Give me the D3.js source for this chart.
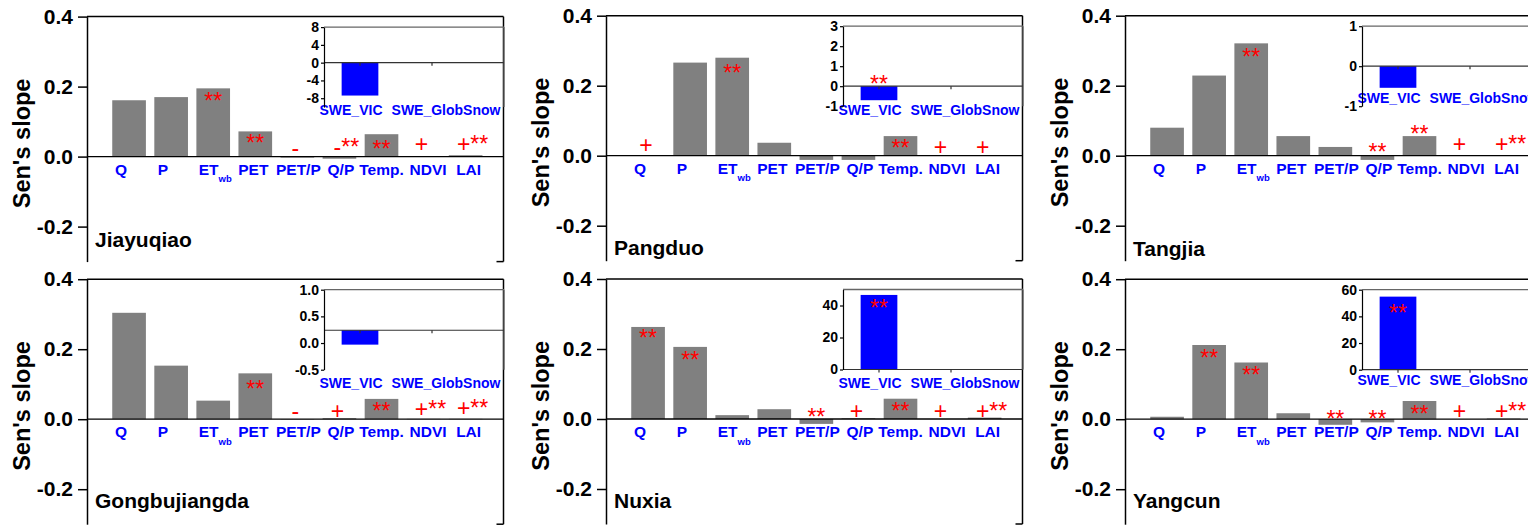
<!DOCTYPE html>
<html>
<head>
<meta charset="utf-8">
<script src="https://cdn.jsdelivr.net/npm/d3@7"></script>
<style>
  html, body { margin: 0; padding: 0; background: #fff; }
  svg { display: block; font-family: "Liberation Sans", Arial, Helvetica, sans-serif; }
</style>
</head>
<body>
<svg id="chart" width="1528" height="525"></svg>
<script>
// ---- Variables on the main axis (Sen's slope per variable) ----
const categories   = ["Q", "P", "ET", "PET", "PET/P", "Q/P", "Temp.", "NDVI", "LAI"];
const categorySubs = ["", "", "wb", "", "", "", "", "", ""];
const yTicks       = [0.4, 0.2, 0.0, -0.2];
const yTickLabels  = ["0.4", "0.2", "0.0", "-0.2"];
const sweProducts  = ["SWE_VIC", "SWE_GlobSnow"];
const stations     = ["Jiayuqiao", "Pangduo", "Tangjia", "Gongbujiangda", "Nuxia", "Yangcun"];

// Sen's slope of each variable, per station
const jiayuqiaoSlope     = [0.161, 0.170, 0.195, 0.072, -0.003, -0.006, 0.064, 0.000, 0.004];
const pangduoSlope       = [0.000, 0.266, 0.280, 0.037, -0.012, -0.012, 0.056, 0.000, 0.000];
const tangjiaSlope       = [0.080, 0.229, 0.321, 0.056, 0.025, -0.012, 0.056, 0.000, 0.001];
const gongbujiangdaSlope = [0.304, 0.153, 0.053, 0.131, -0.001, 0.003, 0.058, 0.001, 0.001];
const nuxiaSlope         = [0.263, 0.206, 0.011, 0.028, -0.014, 0.002, 0.058, 0.000, 0.004];
const yangcunSlope       = [0.007, 0.212, 0.162, 0.017, -0.016, -0.009, 0.052, 0.000, 0.002];

// Trend test marks (sign of trend, ** = significant) and the slope level where each mark sits
const jiayuqiaoTest     = ["", "", "**", "**", "-", "-**", "**", "+", "+**"];
const jiayuqiaoTestAt   = [null, null, 0.135, 0.015, 0.003, 0.004, 0.000, 0.012, 0.012];
const pangduoTest       = ["+", "", "**", "", "", "", "**", "+", "+"];
const pangduoTestAt     = [0.007, null, 0.214, null, null, null, 0.000, 0.002, 0.002];
const tangjiaTest       = ["", "", "**", "", "", "**", "**", "+", "+**"];
const tangjiaTestAt     = [null, null, 0.258, null, null, -0.012, 0.040, 0.010, 0.010];
const gongbujiangdaTest   = ["", "", "", "**", "-", "+", "**", "+**", "+**"];
const gongbujiangdaTestAt = [null, null, null, 0.064, 0.000, 0.000, 0.000, 0.007, 0.009];
const nuxiaTest         = ["**", "**", "", "", "**", "+", "**", "+", "+**"];
const nuxiaTestAt       = [0.210, 0.147, null, null, -0.017, 0.000, 0.000, 0.000, 0.000];
const yangcunTest       = ["", "**", "**", "", "**", "**", "**", "+", "+**"];
const yangcunTestAt     = [null, 0.153, 0.104, null, -0.021, -0.021, -0.009, 0.000, 0.000];

// Snow water equivalent slopes (inset), GlobSnow has no value
const jiayuqiaoSwe     = [-7.4, null];
const pangduoSwe       = [-0.7, null];
const tangjiaSwe       = [-0.54, null];
const gongbujiangdaSwe = [-0.03, null];
const nuxiaSwe         = [46.6, null];
const yangcunSwe       = [54.8, null];

const sweBase       = [0, 0, 0, 0.24, 0, 0];
const sweDomain     = [[-10, 8], [-1, 3], [-1, 1], [-0.5, 1.0], [0, 50], [0, 60]];
const sweTicks      = [[8, 4, 0, -4, -8], [3, 2, 1, 0, -1], [1, 0, -1], [1.0, 0.5, 0.0, -0.5], [40, 20, 0], [60, 40, 20, 0]];
const sweTickLabels = [["8", "4", "0", "-4", "-8"], ["3", "2", "1", "0", "-1"], ["1", "0", "-1"],
                       ["1.0", "0.5", "0.0", "-0.5"], ["40", "20", "0"], ["60", "40", "20", "0"]];
const sweTest       = ["", "**", "", "", "**", "**"];
const sweTestAt     = [null, -0.29, null, null, 33.6, 36.6];

const slopes  = [jiayuqiaoSlope, pangduoSlope, tangjiaSlope, gongbujiangdaSlope, nuxiaSlope, yangcunSlope];
const tests   = [jiayuqiaoTest, pangduoTest, tangjiaTest, gongbujiangdaTest, nuxiaTest, yangcunTest];
const testsAt = [jiayuqiaoTestAt, pangduoTestAt, tangjiaTestAt, gongbujiangdaTestAt, nuxiaTestAt, yangcunTestAt];
const swes    = [jiayuqiaoSwe, pangduoSwe, tangjiaSwe, gongbujiangdaSwe, nuxiaSwe, yangcunSwe];

// ---- Layout ----
const panelLeft   = [87, 606, 1125, 87, 606, 1125];
const panelTop    = [16.6, 15.7, 15.7, 279.2, 279.0, 279.2];
const nameDy      = [230, 239.5, 240, 229, 229.3, 229];
const sweLabelDy  = [88, 88.8, 76.3, 97.8, 98.8, 95.5];
const labelNudge  = [-8, -8.3, 2, -2, 1, 1.5, 0, 4.5, 3];
const sweNudge    = [-9, 14];
const plotW = 416.5, plotH = 245;
const insetDx = 237, insetDy = 10.5, insetW = 180, insetH = 80;

const svg = d3.select("#chart");
const RED = "#ff0000", BLUE = "#0000ff", GREY = "#808080";

function drawTest(g, mark, cx, by) {
  if (!mark) return;
  const sign = (mark[0] === "+" || mark[0] === "-") ? mark[0] : "";
  const stars = mark.slice(sign.length);
  const style = t => t.attr("fill", RED).attr("font-size", 23).attr("font-weight", "normal");
  if (sign) {
    const s = g.append("text").attr("x", cx - 2).attr("y", by)
      .attr("text-anchor", "middle").text(sign).call(style);
    const w = s.node().getComputedTextLength();
    if (stars) {
      g.append("text").attr("x", cx - 2 + w / 2).attr("y", by)
        .attr("text-anchor", "start").text(stars).call(style);
    }
  } else {
    g.append("text").attr("x", cx).attr("y", by)
      .attr("text-anchor", "middle").text(stars).call(style);
  }
}

stations.forEach((name, k) => {
  const x0 = panelLeft[k], y0 = panelTop[k];
  const g = svg.append("g");
  const x = d3.scaleLinear().domain([0, 9.9]).range([x0, x0 + plotW]);
  const y = d3.scaleLinear().domain([-0.3, 0.4]).range([y0 + plotH, y0]);
  const vals = slopes[k];

  // bars
  g.selectAll("rect.bar").data(vals).join("rect")
    .attr("class", "bar")
    .attr("x", (d, i) => x(i + 1 - 0.4))
    .attr("width", x(0.8) - x(0))
    .attr("y", d => y(Math.max(d, 0)))
    .attr("height", d => Math.abs(y(d) - y(0)))
    .attr("fill", GREY);

  // frame
  g.append("line").attr("x1", x0).attr("x2", x0 + plotW).attr("y1", y0).attr("y2", y0)
    .attr("stroke", "#000").attr("stroke-width", 1.5);
  g.append("line").attr("x1", x0 + plotW).attr("x2", x0 + plotW).attr("y1", y0).attr("y2", y0 + plotH)
    .attr("stroke", "#000").attr("stroke-width", 1.5);
  g.append("line").attr("x1", x0 + plotW - 7).attr("x2", x0 + plotW).attr("y1", y0 + plotH).attr("y2", y0 + plotH)
    .attr("stroke", "#000").attr("stroke-width", 1.5);
  g.append("line").attr("x1", x0).attr("x2", x0 + plotW).attr("y1", y(0)).attr("y2", y(0))
    .attr("stroke", "#000").attr("stroke-width", 1.3);

  // left axis
  const ax = g.append("g").attr("transform", `translate(${x0},0)`)
    .call(d3.axisLeft(y).tickValues(yTicks).tickFormat((d, i) => yTickLabels[i])
      .tickSize(9).tickSizeOuter(0).tickPadding(5));
  ax.attr("font-family", null).attr("font-size", null);
  ax.selectAll("path, line").attr("stroke", "#000").attr("stroke-width", 1.5);
  ax.selectAll("text").attr("font-size", 21).attr("font-weight", "bold").attr("fill", "#000");

  // axis title
  g.append("text")
    .attr("transform", `translate(${x0 - 57},${y0 + 126.8}) rotate(-90)`)
    .attr("text-anchor", "middle").attr("font-size", 23.5).attr("font-weight", "bold")
    .text("Sen's slope");

  // category labels
  categories.forEach((c, i) => {
    const t = g.append("text")
      .attr("x", x(i + 1) + labelNudge[i]).attr("y", y(0) + 18)
      .attr("text-anchor", "middle").attr("fill", BLUE)
      .attr("font-size", 15.5).attr("font-weight", "bold");
    t.append("tspan").text(c);
    if (categorySubs[i]) {
      t.append("tspan").attr("dy", 7.7).attr("font-size", 9.5).text(categorySubs[i]);
    }
  });

  // trend test marks
  tests[k].forEach((m, i) => {
    if (m) drawTest(g, m, x(i + 1), y(testsAt[k][i]));
  });

  // station name
  g.append("text").attr("x", x0 + 8).attr("y", y0 + nameDy[k])
    .attr("font-size", 21).attr("font-weight", "bold").text(name);

  // ---- inset: SWE slopes ----
  const ix0 = x0 + insetDx, iy0 = y0 + insetDy;
  const xs = d3.scaleLinear().domain([0.5, 3.0]).range([ix0, ix0 + insetW]);
  const ys = d3.scaleLinear().domain(sweDomain[k]).range([iy0 + insetH, iy0]);
  const base = sweBase[k];
  const ig = g.append("g");

  swes[k].forEach((v, j) => {
    if (v === null) return;
    ig.append("rect")
      .attr("x", xs(j + 1 - 0.255)).attr("width", xs(0.51) - xs(0))
      .attr("y", Math.min(ys(base), ys(v)))
      .attr("height", Math.abs(ys(v) - ys(base)))
      .attr("fill", BLUE);
  });

  ig.append("line").attr("x1", ix0).attr("x2", ix0 + insetW).attr("y1", iy0).attr("y2", iy0)
    .attr("stroke", "#666").attr("stroke-width", 1.3);
  ig.append("line").attr("x1", ix0 + insetW).attr("x2", ix0 + insetW).attr("y1", iy0).attr("y2", iy0 + insetH)
    .attr("stroke", "#666").attr("stroke-width", 1.3);
  ig.append("line").attr("x1", ix0).attr("x2", ix0 + insetW).attr("y1", ys(base)).attr("y2", ys(base))
    .attr("stroke", "#333").attr("stroke-width", 1.2);
  sweProducts.forEach((s, j) => {
    ig.append("line").attr("x1", xs(j + 1)).attr("x2", xs(j + 1))
      .attr("y1", ys(base)).attr("y2", ys(base) + 3)
      .attr("stroke", "#333").attr("stroke-width", 1.2);
    ig.append("text").attr("x", xs(j + 1) + sweNudge[j]).attr("y", iy0 + sweLabelDy[k])
      .attr("text-anchor", "middle").attr("fill", BLUE)
      .attr("font-size", 14).attr("font-weight", "bold").text(s);
  });

  const iax = ig.append("g").attr("transform", `translate(${ix0},0)`)
    .call(d3.axisLeft(ys).tickValues(sweTicks[k]).tickFormat((d, i) => sweTickLabels[k][i])
      .tickSize(3).tickSizeOuter(0).tickPadding(2));
  iax.attr("font-family", null).attr("font-size", null);
  iax.selectAll("path, line").attr("stroke", "#000").attr("stroke-width", 1.2);
  iax.selectAll("text").attr("font-size", 14).attr("font-weight", "bold").attr("fill", "#000");

  if (sweTest[k]) drawTest(ig, sweTest[k], xs(1), ys(sweTestAt[k]));
});
</script>
</body>
</html>
